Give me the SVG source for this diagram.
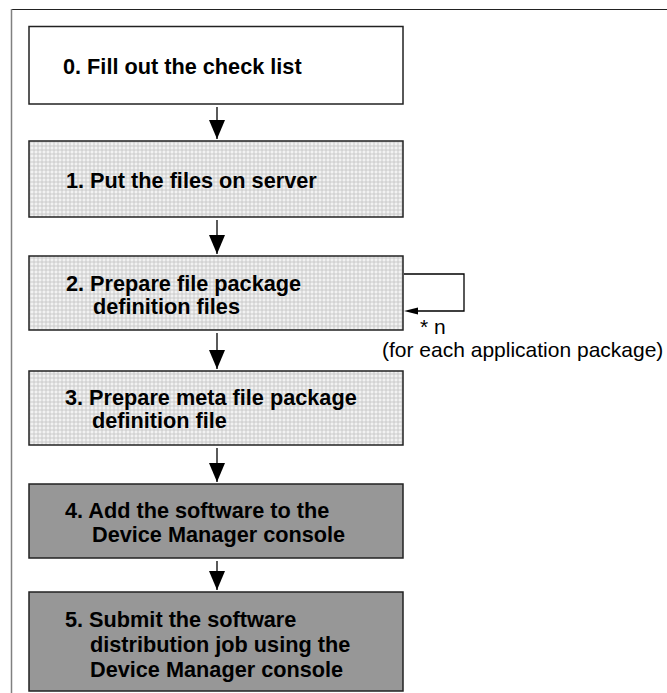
<svg xmlns="http://www.w3.org/2000/svg" width="667" height="693" viewBox="0 0 667 693">
  <defs>
    <pattern id="dots" width="4" height="4" patternUnits="userSpaceOnUse">
      <rect width="4" height="4" fill="#f2f2f2"/>
      <circle cx="2" cy="2" r="1.2" fill="none" stroke="#adadad" stroke-width="0.6"/>
    </pattern>
    <marker id="head" viewBox="0 0 19 16" refX="19" refY="8" markerWidth="19" markerHeight="16" markerUnits="userSpaceOnUse" orient="auto">
      <path d="M0,0 L19,8 L0,16 Z" fill="#000"/>
    </marker>
  </defs>
  <style>
    .box { stroke: #222; stroke-width: 1.5; }
    .white { fill: #ffffff; }
    .dotted { fill: url(#dots); }
    .dark { fill: #979797; }
    .lbl { font-family: "Liberation Sans", Arial, Helvetica, sans-serif; font-weight: bold; font-size: 21.7px; fill: #000; }
    .note { font-family: "Liberation Sans", Arial, Helvetica, sans-serif; font-size: 21px; fill: #000; }
    .conn { stroke: #000; stroke-width: 1.3; fill: none; }
  </style>
  <rect width="667" height="693" fill="#ffffff"/>
  <line x1="11.5" y1="9.5" x2="667" y2="9.5" stroke="#222" stroke-width="1.2"/>
  <line x1="11.5" y1="9" x2="11.5" y2="693" stroke="#808080" stroke-width="1.5"/>

  <g id="step0">
    <rect class="box white" x="29" y="26.5" width="374" height="77.5"/>
    <text class="lbl" x="63" y="74">0. Fill out the check list</text>
  </g>
  <g id="step1">
    <rect class="box dotted" x="29" y="141" width="374" height="76"/>
    <text class="lbl" x="66" y="188">1. Put the files on server</text>
  </g>
  <g id="step2">
    <rect class="box dotted" x="29" y="256" width="374" height="74"/>
    <text class="lbl" x="66" y="291">2. Prepare file package</text>
    <text class="lbl" x="93" y="314">definition files</text>
  </g>
  <g id="step3">
    <rect class="box dotted" x="29" y="371" width="374" height="74"/>
    <text class="lbl" x="65" y="405">3. Prepare meta file package</text>
    <text class="lbl" x="92" y="428">definition file</text>
  </g>
  <g id="step4">
    <rect class="box dark" x="29" y="484" width="374" height="74"/>
    <text class="lbl" x="65" y="518">4. Add the software to the</text>
    <text class="lbl" x="92" y="542">Device Manager console</text>
  </g>
  <g id="step5">
    <rect class="box dark" x="29" y="592" width="374" height="99"/>
    <text class="lbl" x="65" y="627">5. Submit the software</text>
    <text class="lbl" x="90" y="652">distribution job using the</text>
    <text class="lbl" x="90" y="677">Device Manager console</text>
  </g>

  <g id="connectors">
    <line class="conn" x1="217" y1="107" x2="217" y2="139" marker-end="url(#head)"/>
    <line class="conn" x1="217" y1="220" x2="217" y2="254" marker-end="url(#head)"/>
    <line class="conn" x1="217" y1="333" x2="217" y2="369" marker-end="url(#head)"/>
    <line class="conn" x1="217" y1="448" x2="217" y2="482" marker-end="url(#head)"/>
    <line class="conn" x1="217" y1="561" x2="217" y2="590" marker-end="url(#head)"/>
    <polyline class="conn" points="404,274 464,274 464,311 416,311"/>
    <path d="M404,311 L418,307.5 L418,314.5 Z" fill="#000"/>
  </g>
  <text class="note" x="420" y="334">* n</text>
  <text class="note" x="382" y="357">(for each application package)</text>
</svg>
